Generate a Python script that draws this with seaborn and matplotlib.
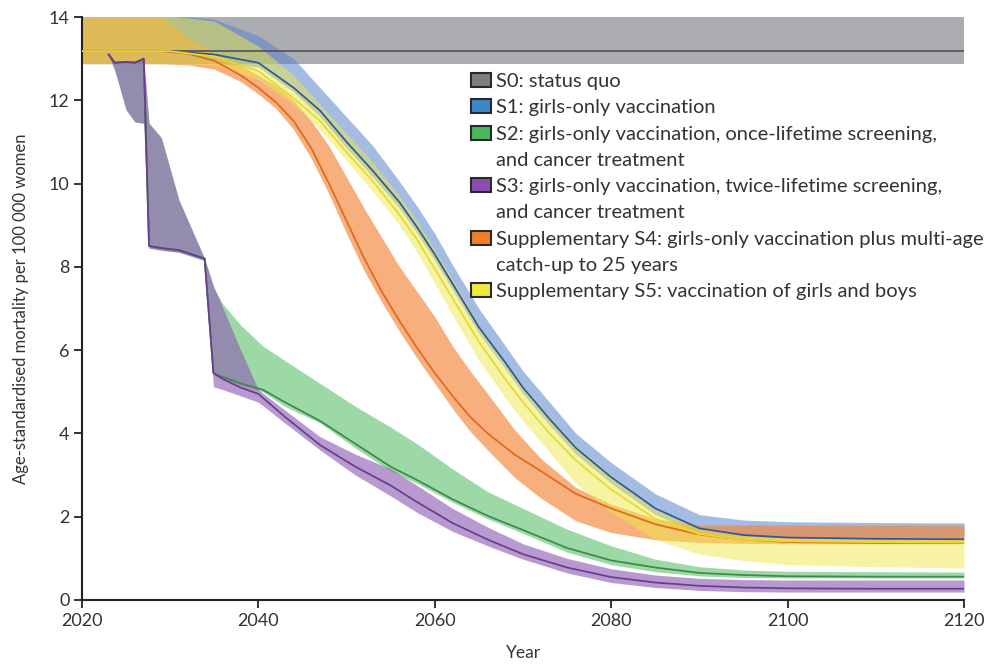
import numpy as np
import pandas as pd
import matplotlib
matplotlib.use("Agg")
import matplotlib.pyplot as plt
from matplotlib.patches import Patch
import seaborn as sns

# ---------------- data ----------------
yrs0 = [2020, 2070, 2120]
c0 = [13.18, 13.18, 13.18]
hi0 = [14.03, 14.03, 14.03]
lo0 = [12.88, 12.88, 12.88]

yrs1 = [2020, 2030, 2035, 2040, 2044, 2047, 2050, 2053, 2056, 2058, 2060, 2062, 2065,
        2068, 2070, 2073, 2076, 2080, 2085, 2090, 2095, 2100, 2110, 2120]
c1 = [13.18, 13.18, 13.1, 12.9, 12.3, 11.75, 11.0, 10.3, 9.55, 8.95, 8.3, 7.6, 6.55,
      5.7, 5.1, 4.35, 3.65, 2.95, 2.2, 1.72, 1.56, 1.5, 1.47, 1.46]
hi1 = [14.03, 14.03, 13.95, 13.55, 13.0, 12.3, 11.6, 10.9, 10.05, 9.45, 8.8, 8.05, 7.0,
       6.1, 5.5, 4.75, 4.0, 3.3, 2.55, 2.05, 1.92, 1.88, 1.86, 1.85]
lo1 = [12.88, 12.88, 12.88, 12.8, 12.2, 11.6, 10.85, 10.15, 9.4, 8.8, 8.15, 7.45, 6.4,
       5.55, 4.95, 4.2, 3.5, 2.8, 2.05, 1.6, 1.52, 1.5, 1.5, 1.5]

yrs2 = [2023, 2023.7, 2025, 2026, 2027.0, 2027.6, 2029, 2031, 2033.9, 2034.9, 2036,
        2038, 2040.5, 2043, 2047, 2051, 2055, 2058, 2062, 2066, 2070, 2075, 2080, 2085,
        2090, 2095, 2100, 2110, 2120]
c2 = [13.1, 12.9, 12.92, 12.9, 13.0, 8.5, 8.45, 8.4, 8.2, 5.45, 5.35, 5.2, 5.05,
      4.75, 4.3, 3.75, 3.2, 2.88, 2.42, 2.02, 1.68, 1.25, 0.95, 0.78, 0.65, 0.6, 0.57,
      0.56, 0.56]
hi2 = [13.15, 12.95, 12.95, 12.95, 13.0, 11.45, 11.1, 9.6, 8.2, 7.5, 7.1, 6.6, 6.1,
       5.75, 5.2, 4.65, 4.15, 3.75, 3.15, 2.6, 2.2, 1.7, 1.3, 0.98, 0.8, 0.72, 0.69, 0.68,
       0.67]
lo2 = [13.1, 12.73, 11.77, 11.48, 11.45, 8.45, 8.4, 8.35, 8.15, 5.4, 5.3, 5.15, 5.0,
       4.65, 4.25, 3.65, 3.1, 2.8, 2.35, 1.95, 1.6, 1.15, 0.85, 0.68, 0.58, 0.54, 0.53,
       0.53, 0.53]

yrs3 = [2023, 2023.7, 2025, 2026, 2027.0, 2027.6, 2029, 2031, 2033.9, 2034.9, 2036,
        2038, 2040, 2043, 2047, 2051, 2055, 2058, 2062, 2066, 2070, 2075, 2080, 2085, 2090,
        2095, 2100, 2110, 2120]
c3 = [13.1, 12.9, 12.92, 12.9, 13.0, 8.5, 8.45, 8.4, 8.2, 5.45, 5.3, 5.1, 4.95,
      4.4, 3.72, 3.2, 2.75, 2.35, 1.85, 1.45, 1.1, 0.78, 0.55, 0.42, 0.34, 0.3, 0.28,
      0.27, 0.27]
hi3 = [13.15, 12.95, 12.95, 12.95, 13.0, 11.45, 11.1, 9.6, 8.2, 7.55, 7.0, 6.0,
       5.05, 4.56, 3.92, 3.5, 3.15, 2.75, 2.2, 1.75, 1.35, 1.0, 0.75, 0.6, 0.52, 0.49,
       0.48, 0.48, 0.48]
lo3 = [13.1, 12.73, 11.77, 11.48, 11.45, 8.45, 8.4, 8.35, 8.15, 5.12, 5.05, 4.9,
       4.75, 4.25, 3.6, 3.0, 2.5, 2.1, 1.65, 1.3, 0.98, 0.65, 0.42, 0.3, 0.23, 0.2, 0.19,
       0.19, 0.19]

yrs4 = [2020, 2029, 2032, 2035, 2038, 2040, 2042, 2044, 2046, 2048, 2050, 2052, 2054,
        2056, 2058, 2060, 2062, 2064, 2066, 2069, 2072, 2076, 2080, 2085, 2090, 2095,
        2100, 2110, 2120]
c4 = [13.18, 13.18, 13.12, 12.95, 12.6, 12.3, 11.95, 11.5, 10.85, 10.0, 9.1, 8.2, 7.4,
      6.7, 6.05, 5.45, 4.9, 4.4, 4.0, 3.5, 3.1, 2.55, 2.2, 1.82, 1.57, 1.45, 1.39, 1.37,
      1.37]
hi4 = [14.03, 14.03, 13.5, 13.15, 12.85, 12.6, 12.35, 12.0, 11.5, 10.9, 10.15, 9.4, 8.7,
       8.0, 7.4, 6.8, 6.1, 5.5, 4.95, 4.1, 3.4, 2.7, 2.3, 1.95, 1.8, 1.8, 1.8, 1.8, 1.8]
lo4 = [12.88, 12.88, 12.85, 12.75, 12.45, 12.15, 11.8, 11.3, 10.6, 9.75, 8.8, 7.9, 7.15,
       6.45, 5.8, 5.2, 4.6, 4.05, 3.6, 2.95, 2.45, 1.9, 1.62, 1.45, 1.38, 1.36, 1.35,
       1.35, 1.35]

yrs5 = [2020, 2030, 2035, 2040, 2044, 2047, 2050, 2053, 2056, 2058, 2060, 2062, 2065,
        2068, 2070, 2073, 2076, 2080, 2085, 2090, 2095, 2100, 2110, 2120]
c5 = [13.18, 13.18, 13.05, 12.7, 12.05, 11.5, 10.75, 10.05, 9.25, 8.65, 7.95, 7.25, 6.2,
      5.3, 4.75, 4.0, 3.35, 2.65, 1.95, 1.58, 1.45, 1.41, 1.39, 1.38]
hi5 = [14.03, 14.03, 13.9, 13.3, 12.6, 11.9, 11.2, 10.5, 9.7, 9.1, 8.4, 7.7, 6.6, 5.7,
       5.15, 4.4, 3.7, 3.0, 2.2, 1.75, 1.55, 1.48, 1.45, 1.45]
lo5 = [12.88, 12.88, 12.85, 12.5, 11.9, 11.3, 10.55, 9.8, 9.0, 8.35, 7.6, 6.85, 5.75,
       4.85, 4.3, 3.55, 2.8, 2.1, 1.45, 1.1, 0.95, 0.85, 0.8, 0.77]

# legend rows: (scenario key or None for a continuation line, text)
legend_rows = [("S0", "S0: status quo"),
               ("S1", "S1: girls-only vaccination"),
               ("S2", "S2: girls-only vaccination, once-lifetime screening,"),
               (None, "and cancer treatment"),
               ("S3", "S3: girls-only vaccination, twice-lifetime screening,"),
               (None, "and cancer treatment"),
               ("S4", "Supplementary S4: girls-only vaccination plus multi-age"),
               (None, "catch-up to 25 years"),
               ("S5", "Supplementary S5: vaccination of girls and boys")]
x_ticks = [2020, 2040, 2060, 2080, 2100, 2120]
y_ticks = [0, 2, 4, 6, 8, 10, 12, 14]

# ---------------- style ----------------
legend_col = {"S0": "#7d7d82", "S1": "#3b86c6", "S2": "#4cb85a",
              "S3": "#8a4fae", "S4": "#f07e2a", "S5": "#ecea3c"}
band_col = {"S0": "#a3a3ab", "S1": "#5a86cc", "S2": "#62c270",
            "S3": "#8d5db6", "S4": "#f3863a", "S5": "#efe94a"}
band_alpha = {"S0": 0.9, "S1": 0.55, "S2": 0.62, "S3": 0.62, "S4": 0.66, "S5": 0.5}
line_col = {"S0": "#55555a", "S1": "#2a5a98", "S2": "#3c8a48",
            "S3": "#6a3d8c", "S4": "#e06a1c", "S5": "#e2dc28"}

series = {"S0": (yrs0, c0, lo0, hi0), "S1": (yrs1, c1, lo1, hi1),
          "S2": (yrs2, c2, lo2, hi2), "S3": (yrs3, c3, lo3, hi3),
          "S4": (yrs4, c4, lo4, hi4), "S5": (yrs5, c5, lo5, hi5)}

sns.set_theme(style="ticks")
plt.rcParams["font.family"] = ["Lato", "DejaVu Sans"]

fig = plt.figure(figsize=(9.88, 6.64), dpi=100)
ax = fig.add_axes([82 / 988, 64 / 664, 882 / 988, 583 / 664])

band_order = ["S0", "S1", "S4", "S5", "S2", "S3"]
for k in band_order:
    x, c, lo, hi = series[k]
    ax.fill_between(x, lo, hi, color=band_col[k], alpha=band_alpha[k], lw=0, zorder=1)

line_order = ["S0", "S2", "S3", "S1", "S4", "S5"]
rows = []
for k in line_order:
    x, c, lo, hi = series[k]
    for xi, ci in zip(x, c):
        rows.append({"Year": xi, "value": ci, "scenario": k})
df = pd.DataFrame(rows)
sns.lineplot(data=df, x="Year", y="value", hue="scenario", hue_order=line_order,
             palette=line_col, linewidth=1.25, legend=False, ax=ax, zorder=3,
             estimator=None, sort=False)

ax.set_xlim(2020, 2120)
ax.set_ylim(0, 14)
ax.set_xticks(x_ticks)
ax.set_yticks(y_ticks)
ax.tick_params(axis="both", direction="out", length=6, width=1.3, color="#222222",
               labelsize=13, labelcolor="#333333", pad=3)
for s in ["top", "right"]:
    ax.spines[s].set_visible(False)
for s in ["left", "bottom"]:
    ax.spines[s].set_color("#222222")
    ax.spines[s].set_linewidth(1.5)
ax.set_xlabel("Year", fontsize=12.5, color="#333333", labelpad=12)
ax.set_ylabel("Age-standardised mortality per 100 000 women", fontsize=12,
              color="#333333", labelpad=14)

handles = []
texts = []
for k, txt in legend_rows:
    if k is None:
        handles.append(Patch(facecolor="none", edgecolor="none"))
    else:
        handles.append(Patch(facecolor=legend_col[k], edgecolor="#2a2a2a", linewidth=1.5))
    texts.append(txt)
leg = fig.legend(handles, texts, loc="upper left", bbox_to_anchor=(471 / 988, 1 - 73 / 664),
                 frameon=False, fontsize=14.5, handlelength=1.0, handleheight=0.7,
                 handletextpad=0.25, labelspacing=0.455, borderaxespad=0, borderpad=0)
for t in leg.get_texts():
    t.set_color("#333333")

fig.savefig("out.png", dpi=100)
